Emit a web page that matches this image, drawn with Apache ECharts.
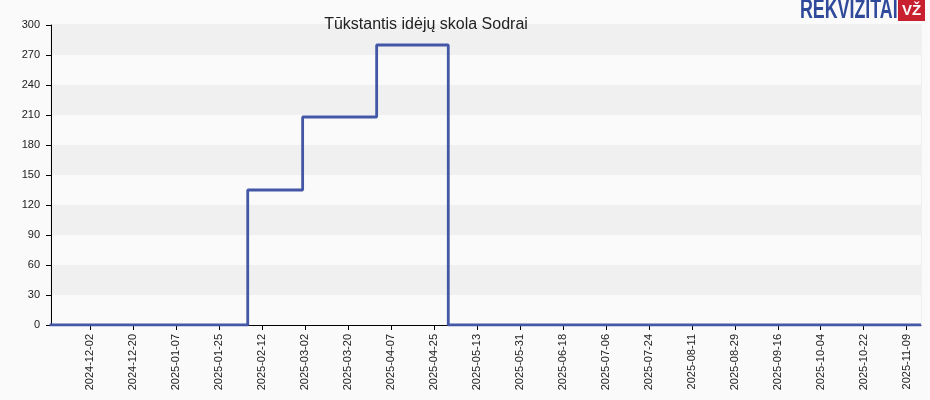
<!DOCTYPE html>
<html>
<head>
<meta charset="utf-8">
<script src="https://cdn.jsdelivr.net/npm/echarts@6/dist/echarts.min.js"></script>
<style>html,body{margin:0;padding:0;background:#fafafa}#c{width:930px;height:400px}</style>
</head>
<body>
<div id="c"></div>
<script>
var title = 'Tūkstantis idėjų skola Sodrai';
var stepDates = ['2024-11-15', '2025-02-06', '2025-03-01', '2025-04-01', '2025-05-01', '2025-11-15'];
var stepValues = [0, 135, 208, 280, 0, 0];
var xTickLabels = ['2024-12-02','2024-12-20','2025-01-07','2025-01-25','2025-02-12','2025-03-02','2025-03-20','2025-04-07','2025-04-25','2025-05-13','2025-05-31','2025-06-18','2025-07-06','2025-07-24','2025-08-11','2025-08-29','2025-09-16','2025-10-04','2025-10-22','2025-11-09'];
var yTicks = [0, 30, 60, 90, 120, 150, 180, 210, 240, 270, 300];

var DAY = 86400000;
function dayNum(s) { var p = s.split('-'); return Date.UTC(+p[0], +p[1] - 1, +p[2]) / DAY; }
function fmt(v) {
  var d = new Date(Math.round(v) * DAY);
  var m = d.getUTCMonth() + 1, dd = d.getUTCDate();
  return d.getUTCFullYear() + '-' + (m < 10 ? '0' : '') + m + '-' + (dd < 10 ? '0' : '') + dd;
}
var data = stepDates.map(function (d, i) { return [dayNum(d), stepValues[i]]; });
var tickVals = xTickLabels.map(dayNum);

var chart = echarts.init(document.getElementById('c'), null, { renderer: 'canvas' });
chart.setOption({
  backgroundColor: '#fafafa',
  animation: false,
  title: {
    text: title, left: 421, top: 12, textAlign: 'center',
    textStyle: { fontFamily: 'Liberation Sans', fontSize: 16, fontWeight: 'normal', color: '#222' }
  },
  graphic: [
    { type: 'text', x: 800, y: -3, scaleX: 0.66, scaleY: 1, style: { text: 'REKVIZITAI', fontFamily: 'Liberation Sans', fontWeight: 'bold', fontSize: 27, fill: '#2f4a9b' } },
    { type: 'rect', shape: { x: 898, y: 0, width: 27, height: 21 }, style: { fill: '#c8202f' } },
    { type: 'text', x: 902, y: 3, style: { text: 'VŽ', fontFamily: 'Liberation Sans', fontWeight: 'bold', fontSize: 15, fill: '#ffffff' } }
  ],
  grid: { left: 51, right: 9, top: 25, bottom: 75, show: true, borderColor: '#e6e6e6', borderWidth: 1, backgroundColor: 'transparent' },
  xAxis: {
    type: 'value',
    min: dayNum('2024-11-15') + 0.6,
    max: dayNum('2025-11-15'),
    axisLine: { lineStyle: { color: '#000', width: 1 } },
    axisTick: { show: true, length: 5, lineStyle: { color: '#000' }, customValues: tickVals },
    axisLabel: { rotate: 90, fontSize: 11, color: '#222', fontFamily: 'Liberation Sans', margin: 9, customValues: tickVals, formatter: function (v) { return fmt(v); } },
    splitLine: { show: false }
  },
  yAxis: {
    type: 'value', min: 0, max: 300, interval: 30,
    axisLine: { show: true, lineStyle: { color: '#000', width: 1 } },
    axisTick: { show: true, length: 5, lineStyle: { color: '#000' } },
    axisLabel: { fontSize: 11, color: '#222', fontFamily: 'Liberation Sans', margin: 11, formatter: function (v) { return yTicks.indexOf(v) >= 0 ? String(v) : ''; } },
    splitLine: { show: false },
    splitArea: { show: true, areaStyle: { color: ['#fafafa', '#f0f0f0'] } }
  },
  series: [{
    type: 'line', step: 'end', data: data, showSymbol: false, symbol: 'none',
    lineStyle: { color: '#4357a6', width: 2.8 }
  }]
});
</script>
</body>
</html>
